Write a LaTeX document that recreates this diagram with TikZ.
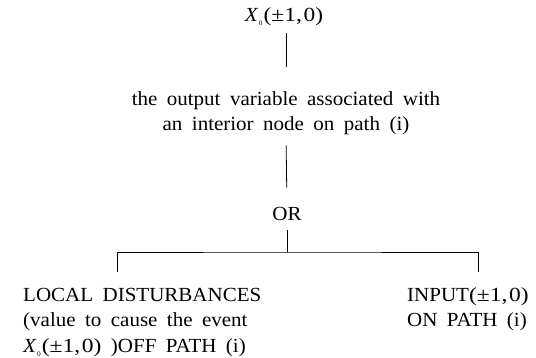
\documentclass[tikz,border=0pt]{standalone}
\usepackage{graphicx}
\usepackage{fontspec}
\setmainfont{Liberation Serif}[FakeStretch=1.05, WordSpace=1.8]
\newcommand{\xzero}{\textit{X}\kern0.5pt\raisebox{-0.45ex}{\fontsize{7}{7}\selectfont 0}\kern1pt}
\newcommand{\pmpair}{\scalebox{1.12}[1]{(±1,\kern1.5pt0)}}
\begin{document}
\begin{tikzpicture}[x=1pt,y=-1pt,
  lbl/.style={inner sep=0pt, font=\fontsize{20}{25.5}\selectfont},
  wire/.style={line width=0.8pt}]
  \useasboundingbox (0,0) rectangle (536,358);
  % text blocks
  \node[lbl] (top) at (284,17) {\xzero\pmpair};
  \node[lbl, align=center] (mid) at (286,113) {the output variable associated with\\an interior node on path (i)};
  \node[lbl] (or) at (287,214) {OR};
  \node[lbl, align=left, anchor=north west] (loc) at (23,288) {LOCAL DISTURBANCES\\(value to cause the event\\\xzero\pmpair\ )OFF PATH (i)};
  \node[lbl, align=left, anchor=north west] (inp) at (407,287) {INPUT\pmpair\\ON PATH (i)};
  % branch geometry
  \coordinate (fork) at (287,252);
  \coordinate (lfoot) at (117,272);
  \coordinate (rfoot) at (478,272);
  % connectors
  \draw[wire, shorten <=7pt, shorten >=24.4pt] (top.south -| mid.north) -- (mid.north);
  \draw[wire, shorten <=10.4pt, shorten >=19.4pt] (mid.south) -- (or.north);
  \draw[wire, shorten <=9.4pt] (or.south) -- (fork);
  \draw[wire] (lfoot) |- (fork) -| (rfoot);
\end{tikzpicture}
\end{document}
